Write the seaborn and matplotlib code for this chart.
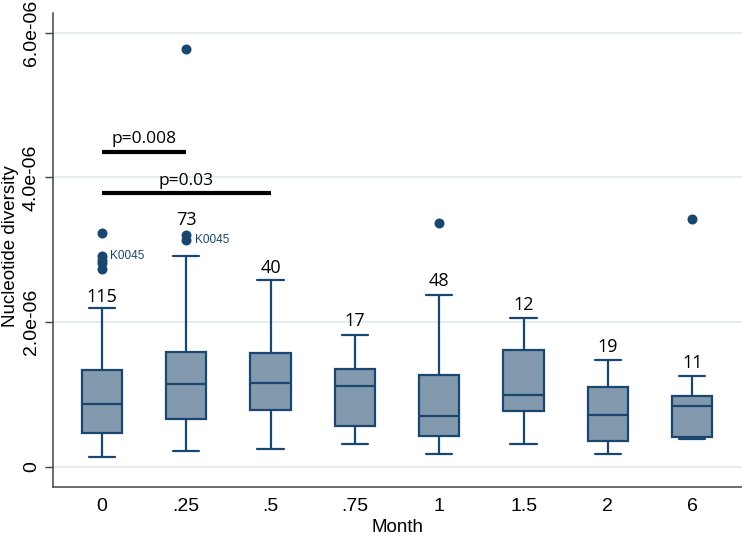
"""
Nucleotide diversity by month - box plot with sample sizes and p-values
"""

import pandas as pd
import numpy as np
import matplotlib
matplotlib.use('Agg')
import matplotlib.pyplot as plt
import seaborn as sns

# Box summaries (units of 1e-06)
months = ['0', '.25', '.5', '.75', '1', '1.5', '2', '6']
whisker_low = [0.14, 0.21, 0.25, 0.32, 0.18, 0.32, 0.18, 0.38]
q1 = [0.46, 0.655, 0.78, 0.56, 0.43, 0.77, 0.36, 0.41]
median = [0.87, 1.14, 1.15, 1.12, 0.70, 0.99, 0.72, 0.845]
q3 = [1.33, 1.59, 1.57, 1.35, 1.27, 1.62, 1.10, 0.98]
whisker_high = [2.20, 2.92, 2.58, 1.82, 2.38, 2.06, 1.47, 1.25]

# sample sizes and where their labels sit
counts = [115, 73, 40, 17, 48, 12, 19, 11]
count_label_y = [2.28, 3.34, 2.68, 1.95, 2.50, 2.16, 1.59, 1.36]

# outside values
outlier_month = ['0', '0', '0', '0', '0', '.25', '.25', '.25', '1', '6']
outlier_value = [3.23, 2.91, 2.86, 2.81, 2.74, 5.77, 3.20, 3.14, 3.37, 3.42]

# labelled sample
label_month = ['0', '.25']
label_value = [2.91, 3.14]
label_text = ['K0045', 'K0045']

# significance bars
sig_from = ['0', '0']
sig_to = ['.25', '.5']
sig_y = [4.35, 3.79]
sig_text_y = [4.48, 3.89]
sig_text = ['p=0.008', 'p=0.03']

yticks = [0, 2, 4, 6]
ytick_labels = ['0', '2.0e-06', '4.0e-06', '6.0e-06']

SCALE = 1e-6
NAVY = '#1a476f'
FILL = '#8399ae'
GRID = '#e4eef0'

# five points per group -> quartiles and min/max land exactly on the read values
rows = []
for i, m in enumerate(months):
    for v in (whisker_low[i], q1[i], median[i], q3[i], whisker_high[i]):
        rows.append({'month': m, 'value': v * SCALE})
box_df = pd.DataFrame(rows)
out_df = pd.DataFrame({'month': outlier_month,
                       'value': np.array(outlier_value) * SCALE})

sns.set_style('white')
plt.rcParams['font.family'] = ['Liberation Sans', 'DejaVu Sans']
plt.rcParams['text.color'] = 'black'
plt.rcParams['axes.labelcolor'] = 'black'
plt.rcParams['xtick.color'] = 'black'
plt.rcParams['ytick.color'] = 'black'

fig = plt.figure(figsize=(7.42, 5.38), dpi=100)
ax = fig.add_axes([0.0714, 0.0954, 0.9286, 0.8799])

sns.boxplot(data=box_df, x='month', y='value', order=months, ax=ax,
            whis=(0, 100), width=0.48, color=FILL, linecolor=NAVY,
            linewidth=1.6, saturation=1, showfliers=False, capwidths=0.31)

sns.stripplot(data=out_df, x='month', y='value', order=months, ax=ax,
              jitter=False, color=NAVY, size=7.2, linewidth=0, zorder=4)

# sample size labels
for i, m in enumerate(months):
    ax.text(i, count_label_y[i] * SCALE, str(counts[i]), ha='center',
            va='baseline', fontsize=13, family=['Open Sans', 'DejaVu Sans'],
            color='black')

# point labels
for m, v, t in zip(label_month, label_value, label_text):
    ax.annotate(t, (months.index(m), v * SCALE), xytext=(6, 0),
                textcoords='offset points', ha='left', va='center',
                fontsize=8.5, color=NAVY)

# significance bars
for a, b, y, ty, t in zip(sig_from, sig_to, sig_y, sig_text_y, sig_text):
    x0, x1 = months.index(a), months.index(b)
    ax.plot([x0, x1], [y * SCALE, y * SCALE], color='black', lw=3,
            solid_capstyle='butt', zorder=5)
    ax.text((x0 + x1) / 2, ty * SCALE, t, ha='center', va='baseline',
            fontsize=12.5, family=['Open Sans', 'DejaVu Sans'])

ax.set_xlim(-0.58, 7.59)
ax.set_ylim(-0.277 * SCALE, 6.27 * SCALE)
ax.set_yticks([t * SCALE for t in yticks])
ax.set_yticklabels(ytick_labels, rotation=90, va='center')
ax.yaxis.grid(True, color=GRID, lw=1.4)
ax.xaxis.grid(False)
ax.set_axisbelow(True)

ax.tick_params(axis='y', left=True, length=5.5, width=1, color='#444444',
               pad=4, labelsize=14)
ax.tick_params(axis='x', bottom=False, length=0, pad=8, labelsize=14)

for side in ['top', 'right']:
    ax.spines[side].set_visible(False)
for side in ['left', 'bottom']:
    ax.spines[side].set_color('#444444')
    ax.spines[side].set_linewidth(1.1)

ax.set_xlabel('Month', fontsize=13.5, labelpad=3)
ax.set_ylabel('Nucleotide diversity', fontsize=13.5)
ax.yaxis.set_label_coords(-0.050, 0.508)

plt.savefig('out.png', dpi=100)
plt.close()
